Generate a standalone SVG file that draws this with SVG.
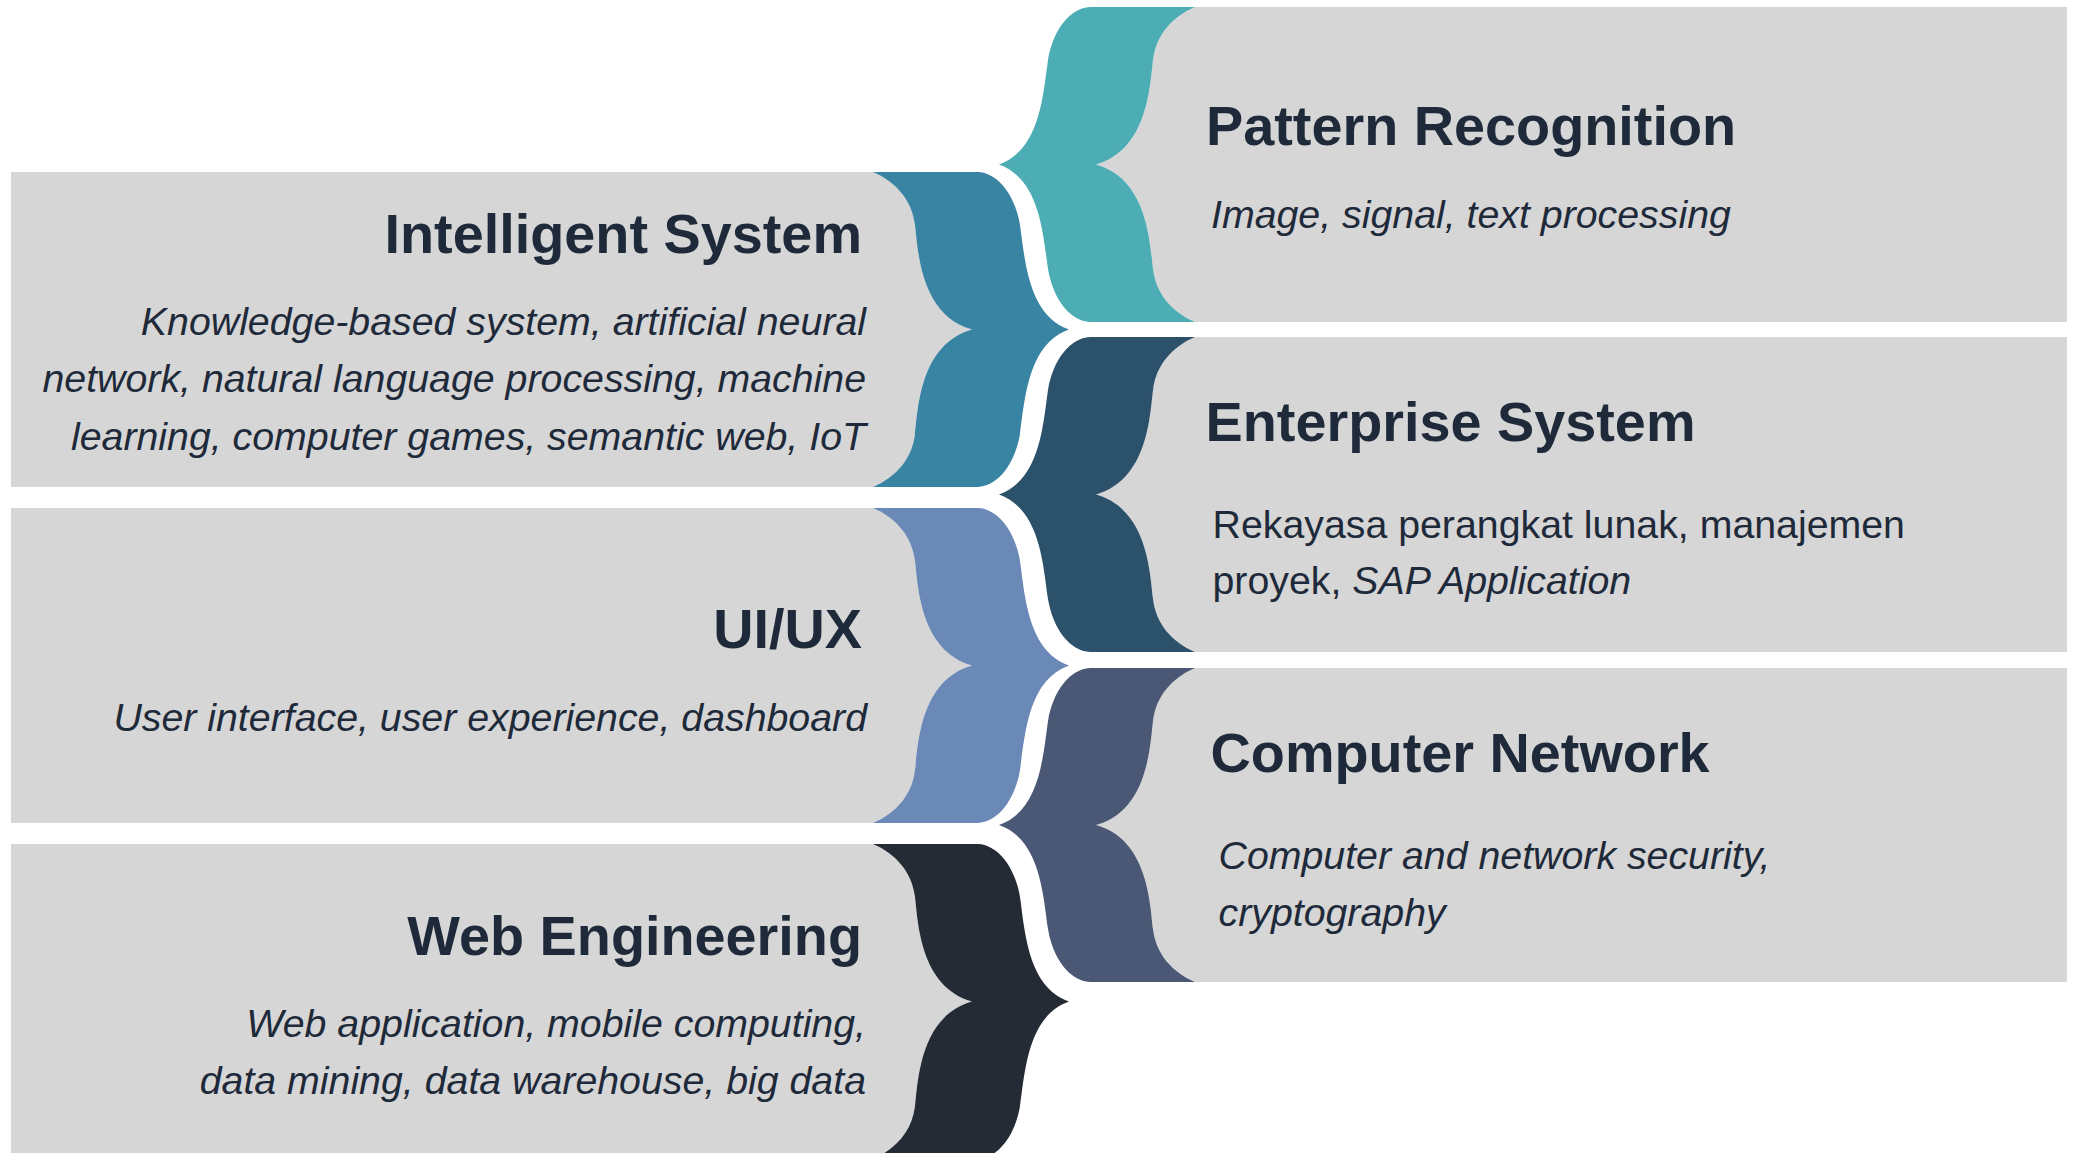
<svg xmlns="http://www.w3.org/2000/svg" width="2074" height="1153" viewBox="0 0 2074 1153">
<style>
.panel{fill:#d6d6d6}
.h{font-family:"Liberation Sans",Arial,sans-serif;font-weight:bold;font-size:55.8px;fill:#1e2a3a}
.s{font-family:"Liberation Sans",Arial,sans-serif;font-size:39.3px;fill:#1e2a3a}
.i{font-style:italic}
.r{text-anchor:end}
</style>
<rect width="2074" height="1153" fill="#ffffff"/>
<g id="connectors"></g>

<g id="node-intelligent-system">
<path class="panel" d="M 11,172 L 873,172 C 896,182 912,200 915,225 C 918,250 920,315 972,329.5 C 920,344 918,409 915,434 C 912,459 896,477 873,487 L 11,487 Z"/>
<path fill="#3a84a3" d="M 978,172 L 873,172 C 896,182 912,200 915,225 C 918,250 920,315 972,329.5 C 920,344 918,409 915,434 C 912,459 896,477 873,487 L 978,487 C 998,486 1015,464 1020,434 C 1025,399 1028,344 1069,329.5 C 1028,315 1025,260 1020,225 C 1015,195 998,173 978,172 Z"/>
<text class="h r" x="862" y="253">Intelligent System</text>
<text class="s i r" x="866" y="334.5">Knowledge-based system, artificial neural</text>
<text class="s i r" x="866" y="392">network, natural language processing, machine</text>
<text class="s i r" x="866" y="449.5">learning, computer games, semantic web, IoT</text>
</g>

<g id="node-ui-ux">
<path class="panel" d="M 11,508 L 873,508 C 896,518 912,536 915,561 C 918,586 920,651 972,665.5 C 920,680 918,745 915,770 C 912,795 896,813 873,823 L 11,823 Z"/>
<path fill="#6b89b7" d="M 978,508 L 873,508 C 896,518 912,536 915,561 C 918,586 920,651 972,665.5 C 920,680 918,745 915,770 C 912,795 896,813 873,823 L 978,823 C 998,822 1015,800 1020,770 C 1025,735 1028,680 1069,665.5 C 1028,651 1025,596 1020,561 C 1015,531 998,509 978,508 Z"/>
<text class="h r" x="862" y="648">UI/UX</text>
<text class="s i r" x="867" y="730.5">User interface, user experience, dashboard</text>
</g>

<g id="node-web-engineering">
<path class="panel" d="M 11,844 L 873,844 C 896,854 912,872 915,897 C 918,922 920,987 972,1001.5 C 920,1016 918,1081 915,1106 C 912,1131 896,1149 873,1159 L 11,1159 Z"/>
<path fill="#242b35" d="M 978,844 L 873,844 C 896,854 912,872 915,897 C 918,922 920,987 972,1001.5 C 920,1016 918,1081 915,1106 C 912,1131 896,1149 873,1159 L 978,1159 C 998,1158 1015,1136 1020,1106 C 1025,1071 1028,1016 1069,1001.5 C 1028,987 1025,932 1020,897 C 1015,867 998,845 978,844 Z"/>
<text class="h r" x="862" y="955">Web Engineering</text>
<text class="s i r" x="866" y="1036.5">Web application, mobile computing,</text>
<text class="s i r" x="866" y="1093.5">data mining, data warehouse, big data</text>
</g>

<g id="node-pattern-recognition">
<path class="panel" d="M 1195,7 L 2067,7 L 2067,322 L 1195,322 C 1172,312 1156,294 1153,269 C 1150,244 1148,179 1096,164.5 C 1148,150 1150,85 1153,60 C 1156,35 1172,17 1195,7 Z"/>
<path fill="#4dadb4" d="M 1090,7 L 1195,7 C 1172,17 1156,35 1153,60 C 1150,85 1148,150 1096,164.5 C 1148,179 1150,244 1153,269 C 1156,294 1172,312 1195,322 L 1090,322 C 1070,321 1053,299 1048,269 C 1043,234 1040,179 999,164.5 C 1040,150 1043,95 1048,60 C 1053,30 1070,8 1090,7 Z"/>
<text class="h" x="1206" y="145">Pattern Recognition</text>
<text class="s i" x="1211" y="227.5">Image, signal, text processing</text>
</g>

<g id="node-enterprise-system">
<path class="panel" d="M 1195,337 L 2067,337 L 2067,652 L 1195,652 C 1172,642 1156,624 1153,599 C 1150,574 1148,509 1096,494.5 C 1148,480 1150,415 1153,390 C 1156,365 1172,347 1195,337 Z"/>
<path fill="#2c516b" d="M 1090,337 L 1195,337 C 1172,347 1156,365 1153,390 C 1150,415 1148,480 1096,494.5 C 1148,509 1150,574 1153,599 C 1156,624 1172,642 1195,652 L 1090,652 C 1070,651 1053,629 1048,599 C 1043,564 1040,509 999,494.5 C 1040,480 1043,425 1048,390 C 1053,360 1070,338 1090,337 Z"/>
<text class="h" x="1205.5" y="441">Enterprise System</text>
<text class="s" x="1212.5" y="537.5">Rekayasa perangkat lunak, manajemen</text>
<text class="s" x="1212.5" y="594">proyek, <tspan class="i">SAP Application</tspan></text>
</g>

<g id="node-computer-network">
<path class="panel" d="M 1195,668 L 2067,668 L 2067,982 L 1195,982 C 1172,972 1156,954 1153,929 C 1150,904 1148,839 1096,825 C 1148,811 1150,746 1153,721 C 1156,696 1172,678 1195,668 Z"/>
<path fill="#4a5875" d="M 1090,668 L 1195,668 C 1172,678 1156,696 1153,721 C 1150,746 1148,811 1096,825 C 1148,839 1150,904 1153,929 C 1156,954 1172,972 1195,982 L 1090,982 C 1070,981 1053,959 1048,929 C 1043,894 1040,839 999,825 C 1040,811 1043,756 1048,721 C 1053,691 1070,669 1090,668 Z"/>
<text class="h" x="1210.5" y="772">Computer Network</text>
<text class="s i" x="1218.5" y="868.5">Computer and network security,</text>
<text class="s i" x="1218.5" y="925.5">cryptography</text>
</g>
</svg>
